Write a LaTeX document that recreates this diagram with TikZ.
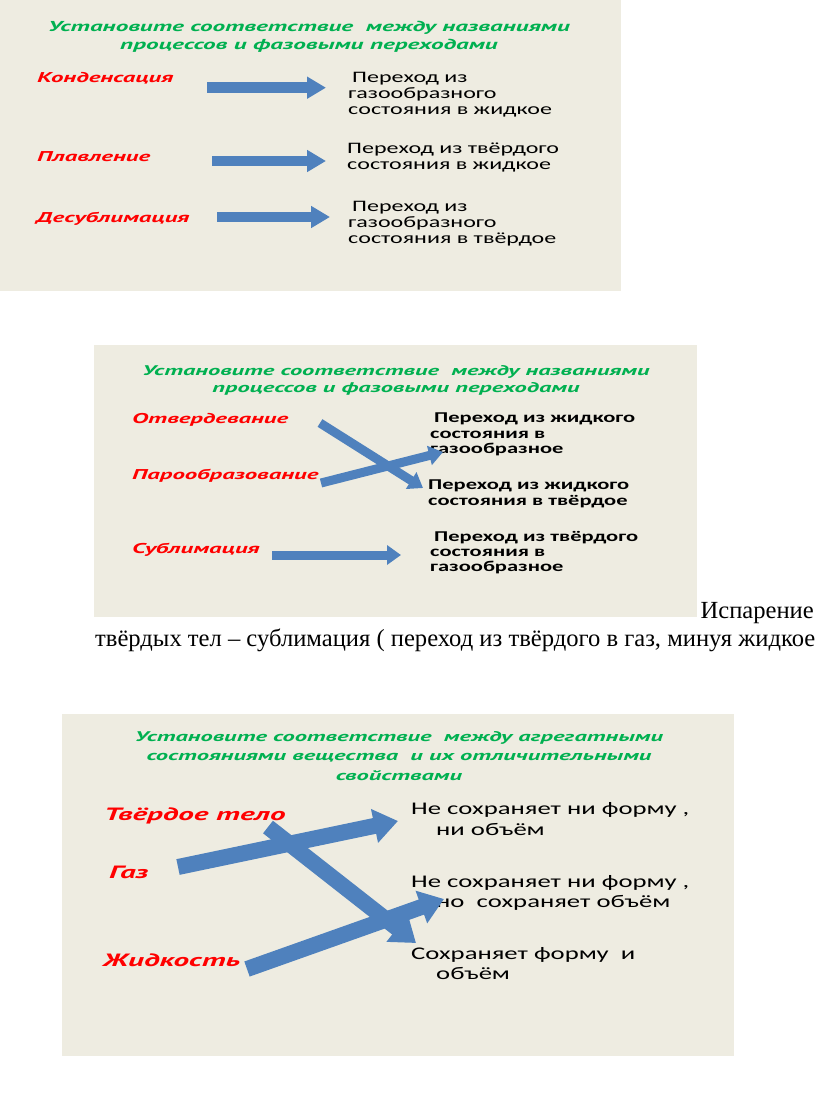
\documentclass[tikz,border=0pt]{standalone}
\usepackage{fontspec}
\setmainfont{Liberation Serif}
\newfontfamily\cursfont{PT Sans}[FakeStretch=1.75]
\newfontfamily\slidefont{Carlito}[FakeStretch=1.5]
\usetikzlibrary{arrows.meta}
\definecolor{slidebg}{HTML}{EEECE1}
\definecolor{headgreen}{HTML}{00B050}
\definecolor{labelred}{HTML}{FF0000}
\definecolor{arrowblue}{HTML}{4F81BD}
\tikzset{
  heading/.style={font=\cursfont\bfseries\itshape\fontsize{#1}{17.6}\selectfont,
    text=headgreen, align=center, anchor=north, inner sep=0pt},
  heading/.default=14.4,
  process/.style={font=\cursfont\bfseries\itshape\fontsize{#1}{#1}\selectfont,
    text=labelred, anchor=base west, inner sep=0pt},
  process/.default=14.2,
  phase/.style={font=\slidefont\fontsize{16}{16.2}\selectfont,
    align=left, anchor=north west, inner sep=0pt},
  boldphase/.style={font=\slidefont\bfseries\fontsize{15}{15.3}\selectfont,
    align=left, anchor=north west, inner sep=0pt},
  bigphase/.style={font=\slidefont\fontsize{17.8}{20.5}\selectfont,
    align=left, anchor=north west, inner sep=0pt},
  blockarrow/.style n args={3}{draw=arrowblue, line width=#1,
    -{Triangle[width=#2,length=#3,fill=arrowblue]}}
}
\begin{document}
\begin{tikzpicture}[x=1pt,y=-1pt]
  \useasboundingbox (0,0) rectangle (816,1095);
  \fill[white] (0,0) rectangle (816,1095);

  % first slide
  \fill[slidebg] (0,0) rectangle (621,291);
  \node[heading] (title1) at (309,21)
    {Установите соответствие\ \ между названиями\\процессов и фазовыми переходами};
  \node[process] (cond) at (37,82.5) {Конденсация};
  \node[process] (melt) at (37,161.5) {Плавление};
  \node[process] (desub) at (36,222) {Десублимация};
  \node[phase] (gasliq) at (348,72)
    {\hspace*{4pt}Переход из\\газообразного\\состояния в жидкое};
  \node[phase] (solliq) at (347,143)
    {Переход из твёрдого\\состояния в жидкое};
  \node[phase] (gassol) at (348,201)
    {\hspace*{4pt}Переход из\\газообразного\\состояния в твёрдое};
  \coordinate (a1) at (207,87.7);  \coordinate (b1) at (326,87.7);
  \coordinate (a2) at (212,161);   \coordinate (b2) at (326,161);
  \coordinate (a3) at (217,217);   \coordinate (b3) at (330,217);
  \begin{scope}[blockarrow={10.5pt}{21pt}{19pt}]
    \draw (a1) -- (b1);
    \draw (a2) -- (b2);
    \draw (a3) -- (b3);
  \end{scope}

  % second slide
  \fill[slidebg] (94,345) rectangle (697,617);
  \node[heading=14] (title2) at (396,365)
    {Установите соответствие\ \ между названиями\\процессов и фазовыми переходами};
  \node[process] (solid) at (132,423.5) {Отвердевание};
  \node[process] (vapour) at (132,479.5) {Парообразование};
  \node[process] (subl) at (132,553.5) {Сублимация};
  \node[boldphase] (liqgas) at (430,413)
    {\hspace*{4pt}Переход из жидкого\\состояния в\\газообразное};
  \node[boldphase] (liqsol) at (428,480)
    {Переход из жидкого\\состояния в твёрдое};
  \node[boldphase] (solgas) at (430,531)
    {\hspace*{4pt}Переход из твёрдого\\состояния в\\газообразное};
  \coordinate (a4) at (320,423);   \coordinate (b4) at (423,488);
  \coordinate (a5) at (321,483);   \coordinate (b5) at (443,452);
  \coordinate (a6) at (272,555);   \coordinate (b6) at (401,555);
  \begin{scope}[blockarrow={9pt}{19pt}{14pt}]
    \draw (a4) -- (b4);
    \draw (a5) -- (b5);
    \draw (a6) -- (b6);
  \end{scope}

  \node[anchor=base east, inner sep=0pt, font=\fontsize{24.6}{28}\selectfont]
    (evap) at (814,618) {Испарение};
  \node[anchor=base west, inner sep=0pt, font=\fontsize{24.6}{28}\selectfont]
    (evapnext) at (95,646)
    {твёрдых тел – сублимация ( переход из твёрдого в газ, минуя жидкое};

  % third slide
  \fill[slidebg] (62,714) rectangle (734,1056);
  \node[heading, font=\cursfont\bfseries\itshape\fontsize{14}{19.5}\selectfont]
    (title3) at (399,731)
    {Установите соответствие\ \ между агрегатными\\состояниями вещества\ \ и их отличительными\\свойствами};
  \node[process=17.8] (solidbody) at (104,820) {Твёрдое тело};
  \node[process=17.8] (gas) at (109,878) {Газ};
  \node[process=17.8] (liquid) at (103,966) {Жидкость};
  \node[bigphase] (noform) at (411,802.7)
    {Не сохраняет ни форму ,\\\hspace*{25pt}ни объём};
  \node[bigphase] (novol) at (411,875)
    {Не сохраняет ни форму ,\\\hspace*{25pt}но\ \ сохраняет объём};
  \node[bigphase] (keeps) at (411,947)
    {Сохраняет форму\ \ и\\\hspace*{25pt}объём};
  \coordinate (a7) at (268,827);   \coordinate (b7) at (416,943);
  \coordinate (a8) at (178,867);   \coordinate (b8) at (398,821);
  \coordinate (a9) at (247,969);   \coordinate (b9) at (444,899);
  \begin{scope}[blockarrow={16pt}{33pt}{24pt}]
    \draw (a7) -- (b7);
    \draw (a8) -- (b8);
    \draw (a9) -- (b9);
  \end{scope}
\end{tikzpicture}
\end{document}
